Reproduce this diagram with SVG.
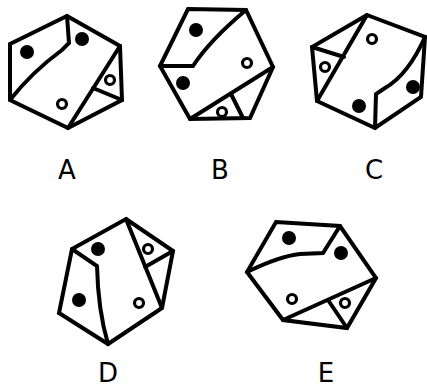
<svg xmlns="http://www.w3.org/2000/svg" width="427" height="388" viewBox="0 0 427 388">
<style>
.ln{fill:none;stroke:#000;stroke-width:4;stroke-linejoin:miter;stroke-linecap:round}
.f{fill:#000}
.o{fill:#fff;stroke:#000;stroke-width:3.2}
.lb{font-family:"DejaVu Sans",sans-serif;font-size:26px;fill:#000;text-anchor:middle}
</style>
<rect width="427" height="388" fill="#fff"/>
<g id="A">
<polygon class="ln" points="67,16 120,46 122,100 68,128 10,100 10,44"/>
<path class="ln" d="M67,16 L69,43 L62,50 Q32,72 10,100"/>
<path class="ln" d="M120,46 L68,128 M93,88 L122,100"/>
<circle class="f" cx="27" cy="52" r="7"/><circle class="f" cx="82" cy="39" r="7"/>
<circle class="o" cx="110" cy="80" r="4.5"/><circle class="o" cx="62" cy="104" r="4.5"/>
<text class="lb" x="67" y="179">A</text>
</g>
<g id="B">
<polygon class="ln" points="188,9 246,10 273,67 250,118 190,119 160,66"/>
<path class="ln" d="M160,66 L193,66 Q210,40 246,10"/>
<path class="ln" d="M273,67 L190,119 M231,94 L243,118"/>
<circle class="f" cx="196" cy="30" r="7"/><circle class="f" cx="183" cy="83" r="7"/>
<circle class="o" cx="247" cy="63" r="4.5"/><circle class="o" cx="222" cy="112" r="4.5"/>
<text class="lb" x="220" y="179">B</text>
</g>
<g id="C">
<polygon class="ln" points="367,15 425,37 421,97 375,128 317,101 312,47"/>
<path class="ln" d="M367,15 L317,101 M312,47 L344,57"/>
<path class="ln" d="M425,37 Q408,75 385,88 L376,94 L375,128"/>
<circle class="o" cx="372" cy="39" r="4.5"/><circle class="o" cx="325" cy="67" r="4.5"/>
<circle class="f" cx="359" cy="106" r="7"/><circle class="f" cx="413" cy="87" r="7"/>
<text class="lb" x="374" y="179">C</text>
</g>
<g id="D">
<polygon class="ln" points="126,219 173,251 162,308 108,344 59,313 72,249"/>
<path class="ln" d="M72,249 L97,266 Q98,310 108,344"/>
<path class="ln" d="M126,219 L162,308 M145,267 L173,251"/>
<circle class="f" cx="98" cy="249" r="7"/><circle class="f" cx="79" cy="300" r="7"/>
<circle class="o" cx="148" cy="249" r="4.5"/><circle class="o" cx="139" cy="303" r="4.5"/>
<text class="lb" x="108" y="382">D</text>
</g>
<g id="E">
<polygon class="ln" points="276,222 340,226 376,278 347,328 283,320 247,272"/>
<path class="ln" d="M247,272 Q280,256 300,254 L323,253 L340,226"/>
<path class="ln" d="M376,278 L283,320 M328,300 L347,328"/>
<circle class="f" cx="289" cy="238" r="7"/><circle class="f" cx="341" cy="253" r="7"/>
<circle class="o" cx="292" cy="299" r="4.5"/><circle class="o" cx="345" cy="303" r="4.5"/>
<text class="lb" x="326" y="382">E</text>
</g>
<g id="connectors"/>
</svg>
